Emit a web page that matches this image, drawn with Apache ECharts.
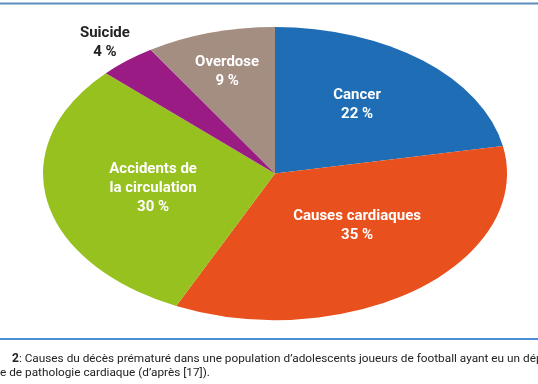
<!DOCTYPE html>
<html><head><meta charset="utf-8">
<script src="https://cdn.jsdelivr.net/npm/echarts@6/dist/echarts.min.js"></script>
<style>html,body{margin:0;padding:0;background:#fff}#c{width:538px;height:384px}</style>
</head><body><div id="c"></div>
<script>
// Data
const categories = ['Cancer', 'Causes cardiaques', 'Accidents de\nla circulation', 'Suicide', 'Overdose'];
const values = [22, 35, 30, 4, 9];
const captionNumber = '2';
const captionLines = [
  ': Causes du décès prématuré dans une population d\u2019adolescents joueurs de football ayant eu un dépistage',
  'e de pathologie cardiaque (d\u2019après [17]).'
];

// Styles
const colors = ['#1f6db5', '#e8501d', '#96c11f', '#9b1b85', '#a48d81'];
const labelColors = ['#fff', '#fff', '#fff', '#222', '#fff'];
// label position as fraction of ellipse radii (x, y) along mid-angle direction
const labelFrac = [[0.555, 0.607], [0.577, 0.45], [0.535, 0.55], [1.15, 1.16], [0.74, 0.72]];
const LAYOUT = { cx: 275, cy: 173.5, rx: 232, ry: 146.5 };
const FONT = 'Roboto, "Noto Sans", sans-serif';

const total = values.reduce((a, b) => a + b, 0);
const cum = [];
values.reduce((acc, v, i) => { cum[i] = acc; return acc + v; }, 0);

const chart = echarts.init(document.getElementById('c'), null, { renderer: 'canvas' });
chart.setOption({
  animation: false,
  backgroundColor: '#fff',
  graphic: [
    { type: 'line', shape: { x1: 0, y1: 3.5, x2: 538, y2: 3.5 }, style: { stroke: '#5b8dbf', lineWidth: 2 } },
    { type: 'line', shape: { x1: 0, y1: 339, x2: 538, y2: 339 }, style: { stroke: '#4a8fd6', lineWidth: 2 } },
    { type: 'text', x: 12, y: 365, style: {
        text: '{b|' + captionNumber + '}' + captionLines[0],
        fill: '#222', font: '11.8px ' + FONT, verticalAlign: 'bottom',
        rich: { b: { fontWeight: 'bold', fontSize: 12, fontFamily: 'Roboto', fill: '#222' } }
    } },
    { type: 'text', x: 0, y: 379, style: { text: captionLines[1], fill: '#222', font: '11.8px ' + FONT, verticalAlign: 'bottom' } }
  ],
  series: [{
    type: 'custom',
    coordinateSystem: 'none',
    data: values.map((v, i) => [v, i]),
    renderItem: function (params, api) {
      const i = params.dataIndex;
      const v = api.value(0);
      const a0 = -Math.PI / 2 + (cum[i] / total) * 2 * Math.PI;
      const a1 = a0 + (v / total) * 2 * Math.PI;
      const am = (a0 + a1) / 2;
      const L = LAYOUT;
      const lx = L.cx + Math.cos(am) * L.rx * labelFrac[i][0];
      const ly = L.cy + Math.sin(am) * L.ry * labelFrac[i][1];
      return {
        type: 'group',
        children: [
          {
            type: 'sector',
            x: L.cx, y: L.cy, scaleX: L.rx / L.ry, scaleY: 1,
            shape: { cx: 0, cy: 0, r0: 0, r: L.ry, startAngle: a0, endAngle: a1, clockwise: true },
            style: { fill: colors[i] }
          },
          {
            type: 'text',
            x: lx, y: ly,
            style: {
              text: categories[i] + '\n' + v + ' %',
              fill: labelColors[i],
              font: 'bold 15px ' + FONT,
              lineHeight: 19,
              align: 'center',
              verticalAlign: 'middle'
            }
          }
        ]
      };
    }
  }]
});
</script></body></html>
